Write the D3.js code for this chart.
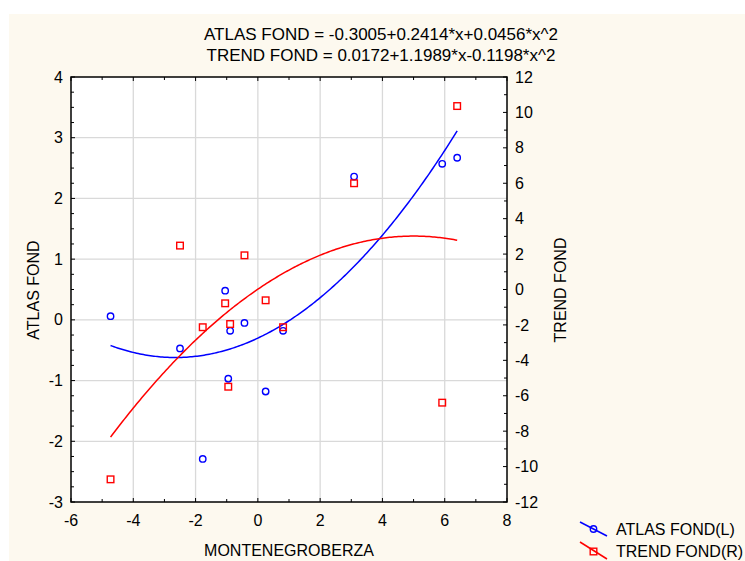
<!DOCTYPE html>
<html><head><meta charset="utf-8">
<script src="https://cdn.jsdelivr.net/npm/d3@7"></script>
<style>
html,body{margin:0;padding:0;background:#fff;}
svg{display:block;}
text{font-family:"Liberation Sans",Arial,sans-serif;fill:#000;}
</style></head>
<body>
<script>
// ---- data ----
const xLabel = "MONTENEGROBERZA";
const leftLabel = "ATLAS FOND";
const rightLabel = "TREND FOND";
const titleLines = ["ATLAS FOND = -0.3005+0.2414*x+0.0456*x^2", "TREND FOND = 0.0172+1.1989*x-0.1198*x^2"];
const xValues   = [-4.73, -2.50, -1.77, -1.05, -0.95, -0.89, -0.43, 0.25, 0.81, 3.09, 5.92, 6.40];
const atlasFond = [0.06, -0.47, -2.29, 0.48, -0.97, -0.18, -0.05, -1.18, -0.18, 2.36, 2.57, 2.67];
const trendFond = [-10.72, 2.48, -2.13, -0.78, -5.49, -1.95, 1.93, -0.61, -2.13, 6.00, -6.39, 10.36];
const atlasCoef = [-0.3005, 0.2414, 0.0456];
const trendCoef = [0.0172, 1.1989, -0.1198];
const xTicks = [-6, -4, -2, 0, 2, 4, 6, 8];
const leftTicks = [-3, -2, -1, 0, 1, 2, 3, 4];
const rightTicks = [-12, -10, -8, -6, -4, -2, 0, 2, 4, 6, 8, 10, 12];
const legendItems = ["ATLAS FOND(L)", "TREND FOND(R)"];

const W = 745, H = 561;
const L = 71, R = 507, T = 77, B = 502;
const blue = "#0000ff", red = "#ff0000", cream = "#fdf9ef";

const svg = d3.select("body").append("svg").attr("width", W).attr("height", H);
svg.append("rect").attr("x", 9).attr("y", 14).attr("width", W - 9).attr("height", H - 14).attr("fill", cream);

const x = d3.scaleLinear().domain([-6, 8]).range([L, R]);
const yL = d3.scaleLinear().domain([-3, 4]).range([B, T]);
const yR = d3.scaleLinear().domain([-12, 12]).range([B, T]);

svg.append("rect").attr("x", L).attr("y", T).attr("width", R - L).attr("height", B - T).attr("fill", "#fff");

// grid
const grid = svg.append("g").attr("stroke", "#d9d9d9").attr("stroke-width", 1.3);
xTicks.filter(v => v > -6 && v < 8).forEach(v => {
  grid.append("line").attr("x1", x(v)).attr("x2", x(v)).attr("y1", T).attr("y2", B);
});
leftTicks.filter(v => v > -3 && v < 4).forEach(v => {
  grid.append("line").attr("x1", L).attr("x2", R).attr("y1", yL(v)).attr("y2", yL(v));
});

// axes with inner ticks
const ax = svg.append("g").attr("stroke", "#000").attr("stroke-width", 1);
d3.range(-6, 8.01, 1).forEach(v => {
  const len = (v % 2 === 0) ? 4 : 3;
  ax.append("line").attr("x1", x(v)).attr("x2", x(v)).attr("y1", B).attr("y2", B - len);
  ax.append("line").attr("x1", x(v)).attr("x2", x(v)).attr("y1", T).attr("y2", T + len);
});
d3.range(-3, 4.01, 0.25).forEach(v => {
  const len = Number.isInteger(v) ? 4 : 3;
  ax.append("line").attr("x1", L).attr("x2", L + len).attr("y1", yL(v)).attr("y2", yL(v));
});
d3.range(-12, 12.01, 1).forEach(v => {
  const len = (v % 2 === 0) ? 4 : 3;
  ax.append("line").attr("x1", R).attr("x2", R - len).attr("y1", yR(v)).attr("y2", yR(v));
});
svg.append("rect").attr("x", L).attr("y", T).attr("width", R - L).attr("height", B - T)
  .attr("fill", "none").attr("stroke", "#000").attr("stroke-width", 1.5);

// tick labels
const fs = 16;
xTicks.forEach(v => svg.append("text").attr("x", x(v)).attr("y", 526).attr("text-anchor", "middle").attr("font-size", fs).text(v));
leftTicks.forEach(v => svg.append("text").attr("x", 63).attr("y", yL(v)).attr("dy", "0.35em").attr("text-anchor", "end").attr("font-size", fs).text(v));
rightTicks.forEach(v => svg.append("text").attr("x", 515).attr("y", yR(v)).attr("dy", "0.35em").attr("text-anchor", "start").attr("font-size", fs).text(v));

// axis titles
svg.append("text").attr("x", 289).attr("y", 556).attr("text-anchor", "middle").attr("font-size", 16).text(xLabel);
svg.append("text").attr("transform", "translate(39,290) rotate(-90)").attr("text-anchor", "middle").attr("font-size", 16).text(leftLabel);
svg.append("text").attr("transform", "translate(566,290) rotate(-90)").attr("text-anchor", "middle").attr("font-size", 16).text(rightLabel);

// title
titleLines.forEach((t, i) => svg.append("text").attr("x", 381).attr("y", 40 + i * 21).attr("text-anchor", "middle").attr("font-size", 17).text(t));

// fit curves
const poly = (c, v) => c[0] + c[1] * v + c[2] * v * v;
const xs = d3.range(d3.min(xValues), d3.max(xValues) + 1e-9, (d3.max(xValues) - d3.min(xValues)) / 200);
const plot = svg.append("g");
plot.append("path").datum(xs).attr("fill", "none").attr("stroke", blue).attr("stroke-width", 1.5)
  .attr("d", d3.line().x(d => x(d)).y(d => yL(poly(atlasCoef, d))));
plot.append("path").datum(xs).attr("fill", "none").attr("stroke", red).attr("stroke-width", 1.5)
  .attr("d", d3.line().x(d => x(d)).y(d => yR(poly(trendCoef, d))));

// points
xValues.forEach((v, i) => {
  plot.append("circle").attr("cx", x(v)).attr("cy", yL(atlasFond[i])).attr("r", 3.2)
    .attr("fill", "none").attr("stroke", blue).attr("stroke-width", 1.4);
});
xValues.forEach((v, i) => {
  plot.append("rect").attr("x", x(v) - 3.3).attr("y", yR(trendFond[i]) - 3.3).attr("width", 6.6).attr("height", 6.6)
    .attr("fill", "none").attr("stroke", red).attr("stroke-width", 1.4);
});

// legend
const lg = svg.append("g");
lg.append("line").attr("x1", 580).attr("y1", 522).attr("x2", 607).attr("y2", 536).attr("stroke", blue).attr("stroke-width", 1.5);
lg.append("circle").attr("cx", 593.5).attr("cy", 529).attr("r", 3.2).attr("fill", "none").attr("stroke", blue).attr("stroke-width", 1.4);
lg.append("text").attr("x", 616).attr("y", 535).attr("font-size", 16).text(legendItems[0]);
lg.append("line").attr("x1", 580).attr("y1", 542).attr("x2", 607).attr("y2", 559).attr("stroke", red).attr("stroke-width", 1.5);
lg.append("rect").attr("x", 590.2).attr("y", 548.2).attr("width", 6.6).attr("height", 6.6).attr("fill", "none").attr("stroke", red).attr("stroke-width", 1.4);
lg.append("text").attr("x", 616).attr("y", 557).attr("font-size", 16).text(legendItems[1]);
</script>
</body></html>
